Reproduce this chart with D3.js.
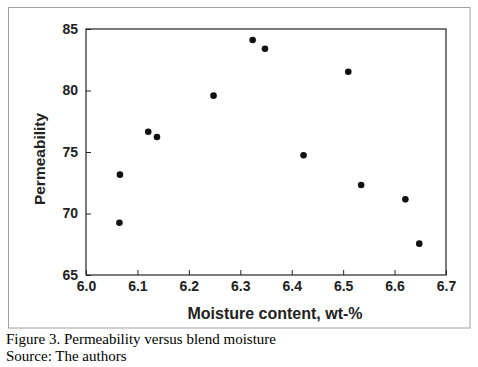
<!DOCTYPE html>
<html><head><meta charset="utf-8">
<script src="https://cdn.jsdelivr.net/npm/d3@7"></script>
<style>body{margin:0;background:#fff}svg{display:block}</style>
</head><body>
<svg id="c" width="478" height="367"></svg>
<script>
const moisture = [6.065, 6.066, 6.121, 6.138, 6.248, 6.324, 6.348, 6.423, 6.510, 6.535, 6.621, 6.648];
const permeability = [69.25, 73.16, 76.65, 76.22, 79.58, 84.1, 83.4, 74.73, 81.53, 72.32, 71.15, 67.55];
const xTicks = [6.0, 6.1, 6.2, 6.3, 6.4, 6.5, 6.6, 6.7];
const yTicks = [65, 70, 75, 80, 85];
const xTitle = "Moisture content, wt-%";
const yTitle = "Permeability";
const caption = ["Figure 3. Permeability versus blend moisture", "Source: The authors"];

const svg = d3.select("#c");
const L = 86, R = 446, T = 29, B = 275;
const x = d3.scaleLinear().domain([6.0, 6.7]).range([L, R]);
const y = d3.scaleLinear().domain([65, 85]).range([B, T]);

svg.append("rect").attr("x", 8.5).attr("y", 7.5).attr("width", 461.5).attr("height", 320.5)
  .attr("fill", "none").attr("stroke", "#a0a0a0").attr("stroke-width", 1);

const font = "Arial, 'Liberation Sans', sans-serif";
const xa = svg.append("g").attr("transform", `translate(0,${B})`)
  .call(d3.axisBottom(x).tickValues(xTicks).tickFormat(d3.format(".1f")).tickSizeInner(-5).tickSizeOuter(0).tickPadding(6));
const ya = svg.append("g").attr("transform", `translate(${L},0)`)
  .call(d3.axisLeft(y).tickValues(yTicks).tickSizeInner(-5).tickSizeOuter(0).tickPadding(8));
[xa, ya].forEach(a => {
  a.select(".domain").remove();
  a.selectAll("line").attr("stroke", "#222").attr("stroke-width", 1);
  a.selectAll("text").attr("fill", "#222").style("font-family", font).style("font-size", "14px").style("font-weight", "bold");
});
svg.append("rect").attr("x", L).attr("y", T).attr("width", R - L).attr("height", B - T)
  .attr("fill", "none").attr("stroke", "#222").attr("stroke-width", 1.2);

svg.append("g").selectAll("circle").data(moisture).join("circle")
  .attr("cx", d => x(d)).attr("cy", (d, i) => y(permeability[i])).attr("r", 3.3).attr("fill", "#111");

svg.append("text").attr("x", 275).attr("y", 319).attr("text-anchor", "middle")
  .style("font-family", font).style("font-size", "16px").style("font-weight", "bold").attr("fill", "#222").text(xTitle);
svg.append("text").attr("transform", `translate(44.5,159) rotate(-90)`).attr("text-anchor", "middle")
  .style("font-family", font).style("font-size", "15.5px").style("font-weight", "bold").attr("fill", "#222").text(yTitle);

svg.append("g").selectAll("text").data(caption).join("text")
  .attr("x", 6).attr("y", (d, i) => 344 + i * 17)
  .style("font-family", "'Times New Roman', 'Liberation Serif', serif").style("font-size", "15px").attr("fill", "#000").text(d => d);
</script>
</body></html>
